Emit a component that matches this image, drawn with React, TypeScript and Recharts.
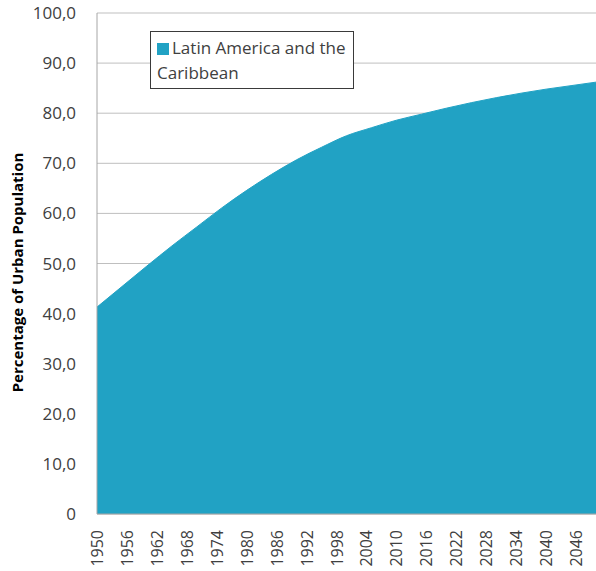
import { AreaChart, Area, XAxis, YAxis, CartesianGrid } from 'recharts';

// urban share, Latin America and the Caribbean (%), every 5 years
const years = [1950, 1955, 1960, 1965, 1970, 1975, 1980, 1985, 1990, 1995, 2000, 2005, 2010, 2015, 2020, 2025, 2030, 2035, 2040, 2045, 2050];
const urbanPct = [41.3, 45.4, 49.5, 53.5, 57.3, 61.1, 64.6, 67.8, 70.7, 73.2, 75.5, 77.1, 78.6, 79.8, 81.0, 82.1, 83.1, 84.0, 84.8, 85.5, 86.2];
const xTicks = [1950, 1956, 1962, 1968, 1974, 1980, 1986, 1992, 1998, 2004, 2010, 2016, 2022, 2028, 2034, 2040, 2046];
const yTicks = [0, 10, 20, 30, 40, 50, 60, 70, 80, 90, 100];

const FILL = '#21A2C4';
const TEXT = '#404040';
const FONT = '"Open Sans", sans-serif';

const data = years.map((year, i) => ({ year, value: urbanPct[i] }));

const fmtY = (v: number) => (v === 0 ? '0' : v.toFixed(1).replace('.', ','));

function YearTick({ x, y, payload }: any) {
  return (
    <text
      x={0}
      y={0}
      transform={`translate(${x},${y + 8}) rotate(-90)`}
      textAnchor="end"
      dominantBaseline="central"
      fill={TEXT}
      fontSize={16}
      fontFamily={FONT}
    >
      {payload.value}
    </text>
  );
}

export default function App() {
  return (
    <div style={{ position: 'absolute', left: 0, top: 0, width: 596, height: 571, background: '#fff' }}>
      <AreaChart width={596} height={571} data={data} margin={{ top: 13, right: 0, bottom: 0, left: 22 }}>
        <CartesianGrid vertical={false} stroke="#bfbfbf" />
        <XAxis
          dataKey="year"
          type="number"
          domain={[1950, 2050]}
          ticks={xTicks}
          interval={0}
          tick={<YearTick />}
          tickLine={false}
          axisLine={{ stroke: '#a6a6a6' }}
          height={57}
        />
        <YAxis
          domain={[0, 100]}
          ticks={yTicks}
          interval={0}
          tickFormatter={fmtY}
          tick={{ fill: TEXT, fontSize: 17, fontFamily: FONT }}
          tickLine={false}
          axisLine={{ stroke: '#a6a6a6' }}
          tickMargin={15}
          width={75}
          label={{
            value: 'Percentage of Urban Population',
            angle: -90,
            position: 'insideLeft',
            offset: -4,
            dy: 9,
            style: { textAnchor: 'middle', fill: '#000', fontSize: 15, fontWeight: 700, fontFamily: FONT },
          }}
        />
        <Area
          type="monotone"
          dataKey="value"
          stroke={FILL}
          fill={FILL}
          fillOpacity={1}
          isAnimationActive={false}
        />
      </AreaChart>
      <div
        style={{
          position: 'absolute',
          left: 150,
          top: 31,
          width: 204,
          height: 58,
          border: '1.5px solid #3a3a3a',
          background: '#fff',
          boxSizing: 'border-box',
          padding: '3px 0 0 6px',
          fontFamily: FONT,
          fontSize: 17,
          lineHeight: '25px',
          color: TEXT,
          whiteSpace: 'nowrap',
        }}
      >
        <span style={{ display: 'inline-block', width: 12, height: 12, background: FILL, marginRight: 3, verticalAlign: -1 }} />
        Latin America and the
        <br />
        Caribbean
      </div>
    </div>
  );
}
